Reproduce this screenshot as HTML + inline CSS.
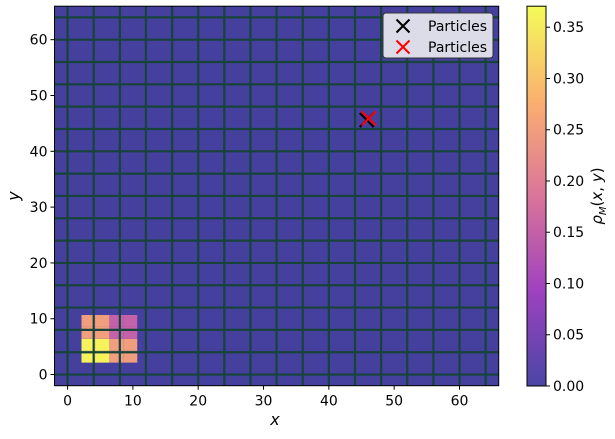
<!DOCTYPE html>
<html><head><meta charset="utf-8"><style>
body{margin:0;background:#fff;}
svg text{font-family:"DejaVu Sans","Liberation Sans",sans-serif;}
</style></head><body>
<svg id="chart" width="615" height="434" viewBox="0 0 615 434" xmlns="http://www.w3.org/2000/svg">
<defs>
<linearGradient id="cmap" x1="0" y1="1" x2="0" y2="0">
<stop offset="0" stop-color="#4a46a5"/>
<stop offset="0.25" stop-color="#9e42be"/>
<stop offset="0.5" stop-color="#d9759a"/>
<stop offset="0.75" stop-color="#fab070"/>
<stop offset="1" stop-color="#f4fb59"/>
</linearGradient>
</defs>
<g id="plot"></g>
</svg>
<script>
const xTicks=[0,10,20,30,40,50,60];
const yTicks=[0,10,20,30,40,50,60];
const cbTicks=[0,0.05,0.1,0.15,0.2,0.25,0.3,0.35];
// density cells: rows bottom->top, columns left->right
const cellSize=2.1333;
const cellStart=[2.1333,2.1333];
const density=[
 [0.36,0.36,0.25,0.25],
 [0.36,0.36,0.25,0.25],
 [0.25,0.25,0.15,0.15],
 [0.25,0.25,0.15,0.15]
];
const particleBlack=[45.8,45.6];
const particleRed=[46.1,45.9];
const vmax=0.3705;

const L=54.5,R=498.7,T=6.2,B=385.7,xmin=-2,xmax=66,ymin=-2,ymax=66;
const sx=v=>L+(v-xmin)/(xmax-xmin)*(R-L);
const sy=v=>B-(v-ymin)/(ymax-ymin)*(B-T);
const NS="http://www.w3.org/2000/svg";
const g=document.getElementById('plot');
function mk(t,a,p){const e=document.createElementNS(NS,t);for(const k in a)e.setAttribute(k,a[k]);(p||g).appendChild(e);return e;}
const stops=[[0,[74,70,165]],[0.25,[158,66,190]],[0.5,[217,117,154]],[0.75,[250,176,112]],[1,[244,251,89]]];
function cmap(v){let t=Math.max(0,Math.min(1,v/vmax));for(let i=0;i<stops.length-1;i++){const[a,ca]=stops[i],[b,cb]=stops[i+1];if(t<=b){const f=(t-a)/(b-a);return 'rgb('+ca.map((c,j)=>Math.round(c+(cb[j]-c)*f)).join(',')+')';}}return 'rgb(244,251,89)';}

let e=mk('rect',{x:L,y:T,width:R-L,height:B-T,fill:'#45409d'});


density.forEach((row,ri)=>row.forEach((v,ci)=>{
 const x0=cellStart[0]+ci*cellSize,y0=cellStart[1]+ri*cellSize;
 const r=mk('rect',{x:sx(x0),y:sy(y0+cellSize),width:sx(x0+cellSize)-sx(x0),height:sy(y0)-sy(y0+cellSize),fill:cmap(v)});
 
 
}));
for(let v=0;v<=64;v+=4){
 let a=mk('line',{x1:sx(v),x2:sx(v),y1:T,y2:B,stroke:'#17433a','stroke-width':2.2});
 
 
 let b=mk('line',{x1:L,x2:R,y1:sy(v),y2:sy(v),stroke:'#17433a','stroke-width':2.2});
 
 
}
function cross(p,c,name){const x=sx(p[0]),y=sy(p[1]),s=7;
 const gg=mk('g',{stroke:c,'stroke-width':2});
 
 
 mk('line',{x1:x-s,y1:y-s,x2:x+s,y2:y+s},gg);mk('line',{x1:x-s,y1:y+s,x2:x+s,y2:y-s},gg);}
cross(particleBlack,'#000','particle-black');
cross(particleRed,'#f00','particle-red');
e=mk('rect',{x:L,y:T,width:R-L,height:B-T,fill:'none',stroke:'#000','stroke-width':1});


xTicks.forEach(v=>{mk('line',{x1:sx(v),x2:sx(v),y1:B,y2:B+4,stroke:'#000'});
 const t=mk('text',{x:sx(v),y:B+20,'text-anchor':'middle','font-size':14});t.textContent=v;
 
 });
yTicks.forEach(v=>{mk('line',{x1:L-4,x2:L,y1:sy(v),y2:sy(v),stroke:'#000'});
 const t=mk('text',{x:L-7,y:sy(v)+5,'text-anchor':'end','font-size':14});t.textContent=v;
 
 });
e=mk('text',{x:275,y:425,'text-anchor':'middle','font-size':16,'font-style':'italic'});e.textContent='x';


e=mk('text',{x:19,y:196,'text-anchor':'middle','font-size':16,'font-style':'italic',transform:'rotate(-90 19 196)'});e.textContent='y';


const lg=mk('g',{});


mk('rect',{x:383,y:13,width:110,height:45,rx:3,fill:'#dcdbe8',stroke:'#333','stroke-width':1},lg);
[['#000',26],['#f00',47]].forEach(([c,y])=>{
 const s=6.5;mk('line',{x1:403-s,y1:y-s,x2:403+s,y2:y+s,stroke:c,'stroke-width':2},lg);
 mk('line',{x1:403-s,y1:y+s,x2:403+s,y2:y-s,stroke:c,'stroke-width':2},lg);
 const t=mk('text',{x:428,y:y+5,'font-size':14},lg);t.textContent='Particles';
 
 
});
const cL=527,cR=546,cT=6.2,cB=386;
e=mk('rect',{x:cL,y:cT,width:cR-cL,height:cB-cT,fill:'url(#cmap)',stroke:'#000','stroke-width':1});


cbTicks.forEach(v=>{const y=cB-v/vmax*(cB-cT);mk('line',{x1:cR,x2:cR+4,y1:y,y2:y,stroke:'#000'});
 const t=mk('text',{x:cR+7,y:y+5,'font-size':14});t.textContent=v.toFixed(2);
 
 });
e=mk('text',{x:602,y:196,'text-anchor':'middle','font-size':15,transform:'rotate(-90 602 196)'});
e.innerHTML='<tspan font-style="italic">ρ</tspan><tspan font-size="10" font-style="italic" dy="4">M</tspan><tspan dy="-4">(</tspan><tspan font-style="italic">x</tspan>, <tspan font-style="italic">y</tspan>)';


</script>
</body></html>
